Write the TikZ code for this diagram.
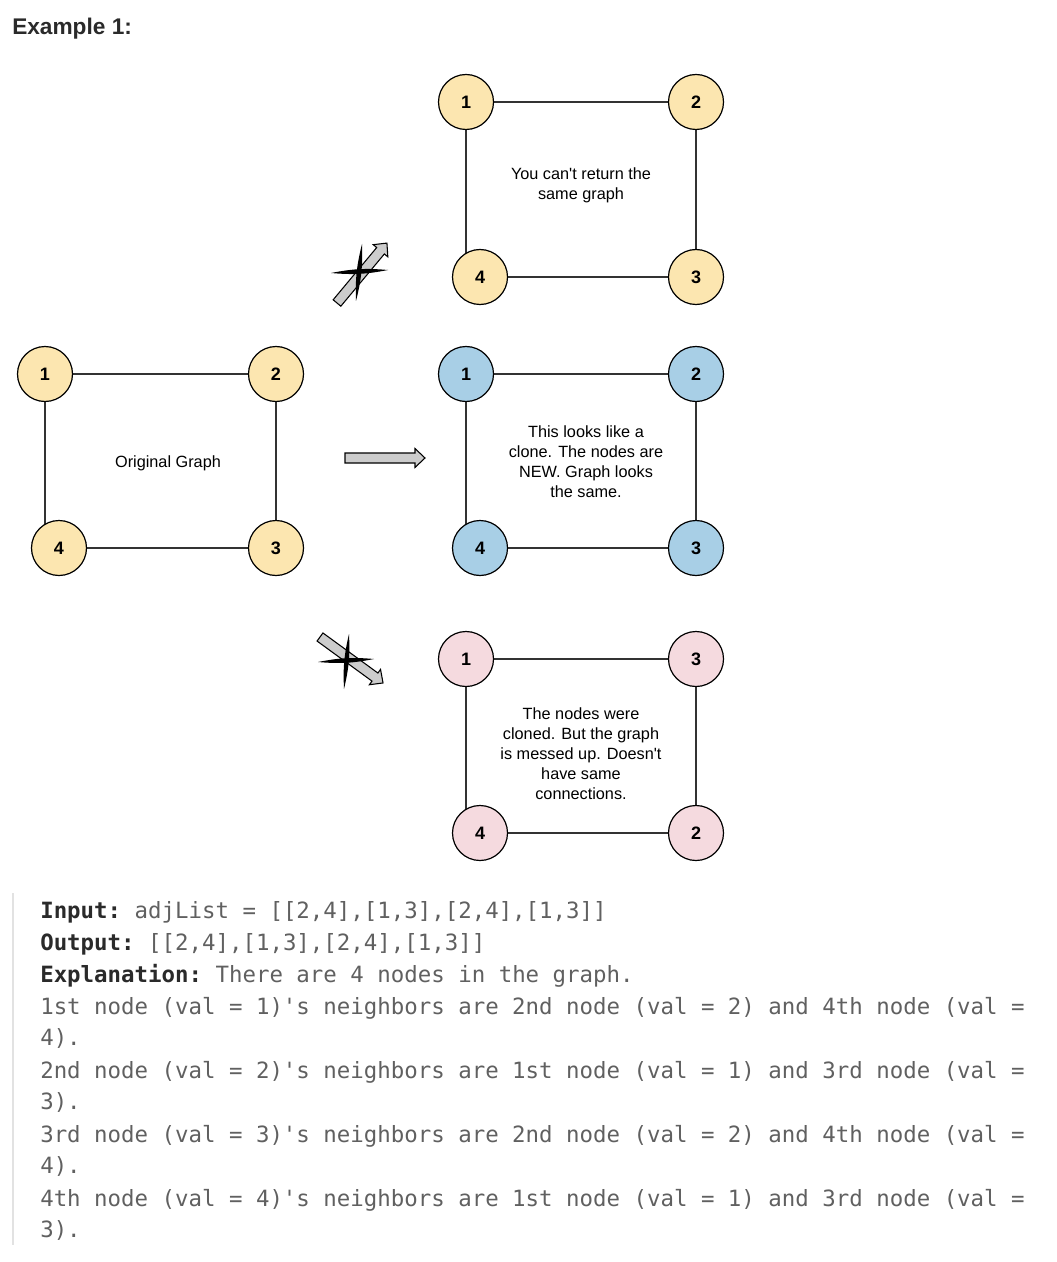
\documentclass[tikz,border=0pt]{standalone}
\usepackage{fontspec}
\setmainfont{Liberation Sans}[Ligatures=TeXOff]
\setmonofont{DejaVu Sans Mono}
\usetikzlibrary{backgrounds}
\definecolor{yel}{HTML}{FCE6B0}
\definecolor{blu}{HTML}{A8CFE6}
\definecolor{pnk}{HTML}{F5DADF}
\definecolor{edgec}{HTML}{333333}
\definecolor{lbl}{HTML}{2A2A2A}
\definecolor{valc}{HTML}{606060}
\definecolor{barc}{HTML}{E2E2E2}
\tikzset{
  gnode/.style={circle, draw=black, line width=0.9pt, minimum size=41.25pt, inner sep=0pt,
    font=\bfseries\fontsize{13.5}{15}\selectfont, text=black},
  ynode/.style={gnode, fill=yel},
  bnode/.style={gnode, fill=blu},
  pnode/.style={gnode, fill=pnk},
  gedge/.style={draw=edgec, line width=0.8pt},
  boxtext/.style={align=center, font=\fontsize{12.2}{15}\selectfont, text=black},
  blockarr/.style={draw=black, fill=gray!40, line width=0.8pt, line join=miter},
  xstroke/.style={fill=black},
  codeline/.style={anchor=base west, inner sep=0pt, font=\ttfamily\fontsize{16.8}{24}\selectfont, text=valc},
}
\newcommand{\lab}[1]{\textcolor{lbl}{\bfseries #1}}
\begin{document}
\begin{tikzpicture}[x=0.75pt,y=-0.75pt]
\useasboundingbox (0,0) rectangle (1056,1262);

% title
\node[anchor=base west, inner sep=0pt, font=\bfseries\fontsize{17}{20}\selectfont, text=lbl] (title) at (12,35) {Example 1:};

% original graph
\node[ynode] (o1) at (45,374) {1};
\node[ynode] (o2) at (276,374) {2};
\node[ynode] (o4) at (59,548) {4};
\node[ynode] (o3) at (276,548) {3};
\node[boxtext] (ot) at (168,463) {Original Graph};

% top graph
\node[ynode] (t1) at (466,102) {1};
\node[ynode] (t2) at (696,102) {2};
\node[ynode] (t4) at (480,277) {4};
\node[ynode] (t3) at (696,277) {3};
\node[boxtext] (tt) at (581,185) {You can't return the\\same graph};

% blue graph
\node[bnode] (b1) at (466,374) {1};
\node[bnode] (b2) at (696,374) {2};
\node[bnode] (b4) at (480,548) {4};
\node[bnode] (b3) at (696,548) {3};
\node[boxtext] (bt) at (586,462) {This looks like a\\clone. The nodes are\\NEW. Graph looks\\the same.};

% pink graph
\node[pnode] (p1) at (466,659) {1};
\node[pnode] (p3) at (696,659) {3};
\node[pnode] (p4) at (480,833) {4};
\node[pnode] (p2) at (696,833) {2};
\node[boxtext] (pt) at (581,754) {The nodes were\\cloned. But the graph\\is messed up. Doesn't\\have same\\connections.};

\begin{scope}[on background layer]
  \draw[gedge] (o1) -- (o2);
  \draw[gedge] (o2) -- (o3);
  \draw[gedge] (o1) -- (o1 |- o4);
  \draw[gedge] (o4) -- (o3);
  \draw[gedge] (t1) -- (t2);
  \draw[gedge] (t2) -- (t3);
  \draw[gedge] (t1) -- (t1 |- t4);
  \draw[gedge] (t4) -- (t3);
  \draw[gedge] (b1) -- (b2);
  \draw[gedge] (b2) -- (b3);
  \draw[gedge] (b1) -- (b1 |- b4);
  \draw[gedge] (b4) -- (b3);
  \draw[gedge] (p1) -- (p3);
  \draw[gedge] (p3) -- (p2);
  \draw[gedge] (p1) -- (p1 |- p4);
  \draw[gedge] (p4) -- (p2);
\end{scope}

% middle arrow
\begin{scope}[shift={(345,458)}]
  \path[blockarr] (0,-5) -- (70,-5) -- (70,-9.5) -- (80,0) -- (70,9.5) -- (70,5) -- (0,5) -- cycle;
\end{scope}
% top crossed arrow
\begin{scope}[shift={(337,303)}, rotate=50.2]
  \path[blockarr] (0,-5) -- (68,-5) -- (68,-9.5) -- (78,0) -- (68,9.5) -- (68,5) -- (0,5) -- cycle;
\end{scope}
\fill[xstroke] (331,273) to[bend left=8] (388,270) to[bend left=8] (331,273);
\fill[xstroke] (362,244) to[bend left=8] (356,301) to[bend left=8] (362,244);
% bottom crossed arrow
\begin{scope}[shift={(320,637)}, rotate=-36.1]
  \path[blockarr] (0,-5) -- (68,-5) -- (68,-9.5) -- (78,0) -- (68,9.5) -- (68,5) -- (0,5) -- cycle;
\end{scope}
\fill[xstroke] (318,662) to[bend left=8] (374,659) to[bend left=8] (318,662);
\fill[xstroke] (349,634) to[bend left=8] (344,689) to[bend left=8] (349,634);

% code block
\draw[barc, line width=2.2pt] (13,893) -- (13,1245);
\node[codeline] (c1) at (40,918) {\lab{Input:} adjList = [[2,4],[1,3],[2,4],[1,3]]};
\node[codeline] (c2) at (40,950) {\lab{Output:} [[2,4],[1,3],[2,4],[1,3]]};
\node[codeline] (c3) at (40,982) {\lab{Explanation:} There are 4 nodes in the graph.};
\node[codeline] (c4) at (40,1014) {1st node (val = 1)'s neighbors are 2nd node (val = 2) and 4th node (val =};
\node[codeline] (c5) at (40,1045) {4).};
\node[codeline] (c6) at (40,1078) {2nd node (val = 2)'s neighbors are 1st node (val = 1) and 3rd node (val =};
\node[codeline] (c7) at (40,1109) {3).};
\node[codeline] (c8) at (40,1142) {3rd node (val = 3)'s neighbors are 2nd node (val = 2) and 4th node (val =};
\node[codeline] (c9) at (40,1173) {4).};
\node[codeline] (c10) at (40,1206) {4th node (val = 4)'s neighbors are 1st node (val = 1) and 3rd node (val =};
\node[codeline] (c11) at (40,1237) {3).};
\end{tikzpicture}
\end{document}
